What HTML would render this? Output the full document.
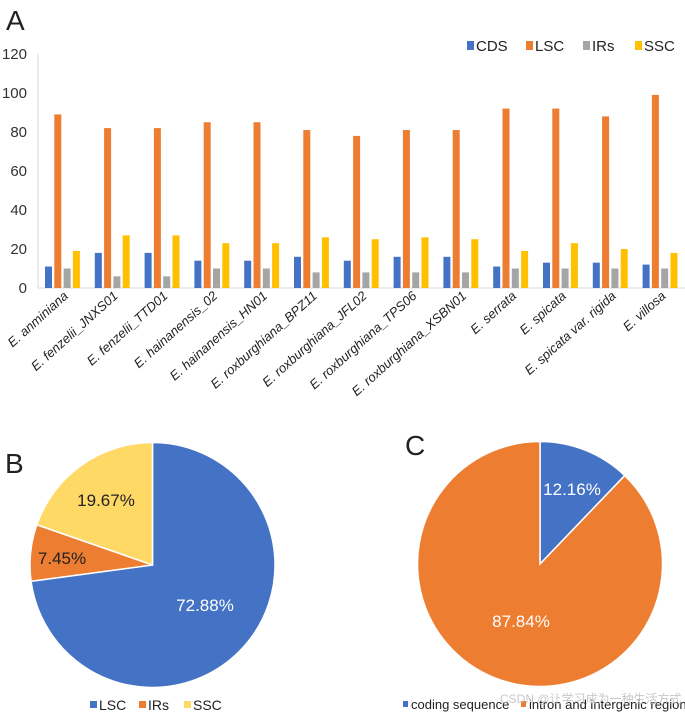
<!DOCTYPE html>
<html><head><meta charset="utf-8"><style>
body{margin:0;background:#fff;}
svg{display:block;font-family:"Liberation Sans",Arial,sans-serif;}
</style></head><body>
<svg id="fig" width="685" height="713" viewBox="0 0 685 713">
<text x="6" y="30" font-size="28" fill="#222">A</text>
<text x="5" y="473" font-size="28" fill="#222">B</text>
<text x="405" y="455" font-size="28" fill="#222">C</text>
<g id="bar"></g>
<g id="pieB"></g>
<g id="pieC"></g>
<text x="500" y="703" font-size="12" fill="#bbb" opacity="0.8" font-family="'Liberation Sans','Noto Sans CJK SC',sans-serif">CSDN @让学习成为一种生活方式</text>
</svg>
<script>
const categories=["E. anminiana","E. fenzelii_JNXS01","E. fenzelii_TTD01","E. hainanensis_02","E. hainanensis_HN01","E. roxburghiana_BPZ11","E. roxburghiana_JFL02","E. roxburghiana_TPS06","E. roxburghiana_XSBN01","E. serrata","E. spicata","E. spicata var. rigida","E. villosa"];
const seriesNames=["CDS","LSC","IRs","SSC"];
const cdsValues=[11,18,18,14,14,16,14,16,16,11,13,13,12];
const lscValues=[89,82,82,85,85,81,78,81,81,92,92,88,99];
const irsValues=[10,6,6,10,10,8,8,8,8,10,10,10,10];
const sscValues=[19,27,27,23,23,26,25,26,25,19,23,20,18];
const yTicks=[0,20,40,60,80,100,120];
const pieBLabels=["LSC","IRs","SSC"];
const pieBValues=[72.88,7.45,19.67];
const pieCLabels=["coding sequence","intron and intergenic region"];
const pieCValues=[12.16,87.84];

const NS="http://www.w3.org/2000/svg";
function mk(tag,attrs,parent,txt){const e=document.createElementNS(NS,tag);for(const k in attrs)e.setAttribute(k,attrs[k]);if(txt!==undefined)e.textContent=txt;parent.appendChild(e);return e;}
const colors=["#4472C4","#ED7D31","#A5A5A5","#FFC000"];

const bar=document.getElementById('bar');
const x0=38,groupW=49.8,yBase=288,yTop=54,yMax=120;
const y=v=>yBase-(v/yMax)*(yBase-yTop);
const xg=i=>x0+i*groupW;
yTicks.forEach(t=>{
  const e=mk('text',{x:27,y:y(t)+5,'font-size':15,'text-anchor':'end',fill:'#333'},bar,String(t));
  
  
});
const ax=mk('line',{x1:x0,y1:yTop,x2:x0,y2:yBase,stroke:'#d9d9d9'},bar);


const bx=mk('line',{x1:x0,y1:yBase,x2:685,y2:yBase,stroke:'#d9d9d9'},bar);


const allSeries=[cdsValues,lscValues,irsValues,sscValues];
categories.forEach((c,i)=>{
  allSeries.forEach((s,j)=>{
    const bx0=xg(i)+7+j*9.3;
    const r=mk('rect',{x:bx0,y:y(s[i]),width:7,height:yBase-y(s[i]),fill:colors[j]},bar);
    
    
  });
  const cx=xg(i)+groupW/2+6;
  const t=mk('text',{x:cx,y:297,'font-size':13,'font-style':'italic','text-anchor':'end',fill:'#222',transform:`rotate(-42 ${cx} 297)`},bar,c);
  
  
});
const legX=[467,526,583,635];
seriesNames.forEach((n,j)=>{
  const g=mk('g',{},bar);
  
  
  mk('rect',{x:legX[j],y:41,width:7,height:9,fill:colors[j]},g);
  mk('text',{x:legX[j]+9,y:51,'font-size':15,fill:'#222'},g,n);
});

function pie(gid,cx,cy,r,vals,cols,labelPos,labelCols){
  const g=document.getElementById(gid);
  const tot=vals.reduce((a,b)=>a+b,0);
  let a=0;
  vals.forEach((v,i)=>{
    const a1=a+v/tot*2*Math.PI;
    const p=(t)=>[cx+r*Math.sin(t),cy-r*Math.cos(t)];
    const [sx,sy]=p(a),[ex,ey]=p(a1);
    const large=(a1-a)>Math.PI?1:0;
    const s=mk('path',{d:`M${cx},${cy}L${sx},${sy}A${r},${r} 0 ${large} 1 ${ex},${ey}Z`,fill:cols[i],stroke:'#fff','stroke-width':1.5},g);
    
    
    const t=mk('text',{x:labelPos[i][0],y:labelPos[i][1],'font-size':17,'text-anchor':'middle',fill:labelCols[i]},g,v.toFixed(2)+'%');
    
    
    a=a1;
  });
}
pie('pieB',152.5,565,122.5,pieBValues,["#4472C4","#ED7D31","#FFD966"],[[205,611],[62,564],[106,506]],["#fff","#222","#222"]);
pie('pieC',540,564,122.5,pieCValues,["#4472C4","#ED7D31"],[[572,495],[521,627]],["#fff","#fff"]);
const gB=document.getElementById('pieB');
[[90,"LSC"],[139,"IRs"],[184,"SSC"]].forEach((d,i)=>{
  const g=mk('g',{},gB);
  
  
  mk('rect',{x:d[0],y:701,width:7,height:7,fill:["#4472C4","#ED7D31","#FFD966"][i]},g);
  mk('text',{x:d[0]+9,y:710,'font-size':14,fill:'#222'},g,d[1]);
});
const gC=document.getElementById('pieC');
[[403,pieCLabels[0],"#4472C4"],[521,pieCLabels[1],"#ED7D31"]].forEach((d,i)=>{
  const g=mk('g',{},gC);
  
  
  mk('rect',{x:d[0],y:701,width:5,height:6,fill:d[2]},g);
  mk('text',{x:d[0]+8,y:709,'font-size':13,fill:'#222'},g,d[1]);
});
</script>
</body></html>
